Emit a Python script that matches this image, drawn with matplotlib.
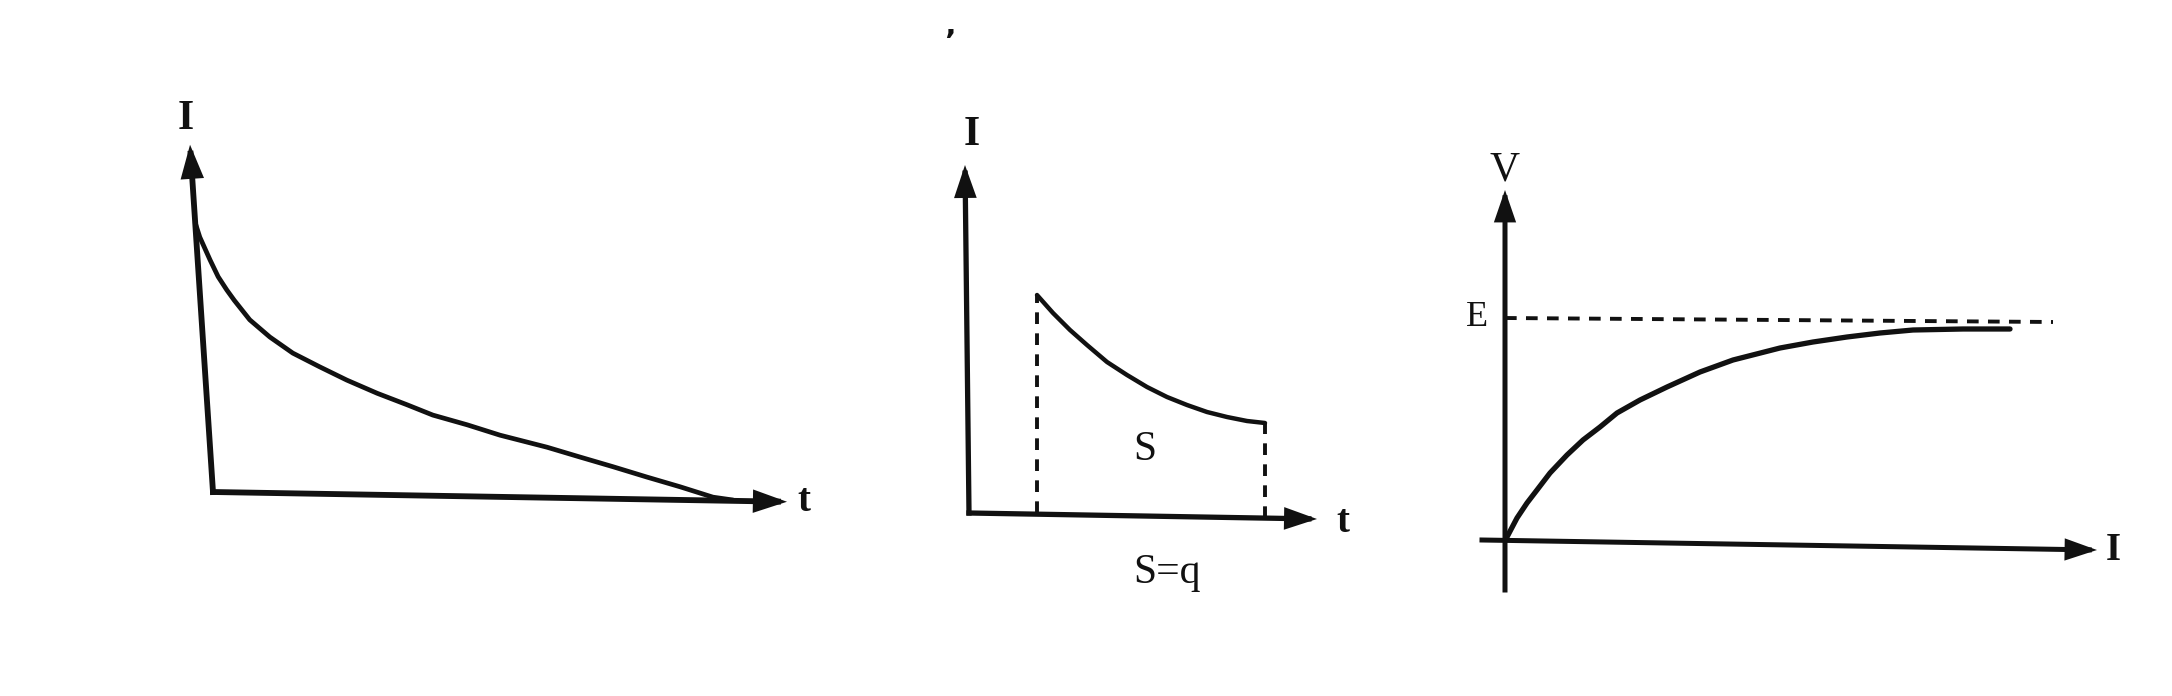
import matplotlib
matplotlib.use("Agg")
import matplotlib.pyplot as plt

W, H, DPI = 2172, 696, 100
INK = "#111111"
SERIF = ["Liberation Serif", "DejaVu Serif"]

# ---------------- data ----------------
# Panel 1: current I vs time t
p1_t = [-0.31, -0.23, -0.05, 0.09, 0.24, 0.37, 0.64, 0.99, 1.39, 1.86, 2.33,
        2.86, 3.38, 3.83, 4.43, 5.00, 5.82, 6.39, 6.97, 7.56, 8.14, 8.71, 9.06]
p1_I = [4.69, 4.44, 4.04, 3.75, 3.52, 3.34, 3.00, 2.70, 2.42, 2.18, 1.95,
        1.72, 1.52, 1.34, 1.17, 0.99, 0.78, 0.61, 0.44, 0.26, 0.09, -0.09, -0.14]
p1_xaxis = ([0.0, 10.0], [0.0, -0.17])
p1_yaxis = ([0.0, -0.4], [0.0, 6.05])

# Panel 2: I vs t, area S under the curve between two instants
p2_t = [1.36, 1.68, 2.02, 2.36, 2.76, 3.16, 3.56, 3.96, 4.36, 4.76, 5.16, 5.56, 5.92]
p2_I = [4.36, 4.00, 3.66, 3.36, 3.02, 2.76, 2.52, 2.32, 2.16, 2.02, 1.92, 1.84, 1.80]
p2_xaxis = ([0.0, 6.96], [0.0, -0.12])
p2_yaxis = ([0.0, -0.08], [0.0, 6.96])

# Panel 3: V vs I approaching E
p3_x = [0.0, 0.04, 0.24, 0.44, 0.64, 0.90, 1.24, 1.56, 1.90, 2.24, 2.70, 3.24,
        3.90, 4.56, 5.50, 6.16, 6.84, 7.50, 8.16, 9.16, 10.10]
p3_V = [0.0, 0.06, 0.44, 0.74, 1.00, 1.34, 1.70, 2.00, 2.26, 2.54, 2.80, 3.06,
        3.36, 3.60, 3.84, 3.96, 4.06, 4.14, 4.20, 4.22, 4.22]
p3_E = ([0.0, 10.96], [4.44, 4.36])
p3_xaxis = ([-0.46, 11.84], [0.0, -0.2])
p3_yaxis = ([0.0, 0.0], [-1.0, 7.0])

# ---------------- figure ----------------
fig = plt.figure(figsize=(W / DPI, H / DPI), dpi=DPI)
fig.patch.set_facecolor("white")


def panel_axes(ox, oy, s):
    """Axes spanning the figure; data origin at pixel (ox, oy from top), s px/unit."""
    ax = fig.add_axes([0, 0, 1, 1])
    ax.set_xlim(-ox / s, (W - ox) / s)
    ax.set_ylim(-(H - oy) / s, oy / s)
    ax.axis("off")
    ax.patch.set_alpha(0)
    return ax


def arrow(ax, xs, ys, lw):
    ax.annotate("", xy=(xs[-1], ys[-1]), xytext=(xs[0], ys[0]),
                arrowprops=dict(arrowstyle="-|>,head_length=16,head_width=5.5",
                                mutation_scale=1, lw=lw, color=INK,
                                shrinkA=0, shrinkB=0, joinstyle="miter",
                                capstyle="projecting"))


DASH = (0, (3, 2.4))

# Panel 1
ax1 = panel_axes(213, 492, 57.4)
arrow(ax1, *p1_xaxis, lw=4.2)
arrow(ax1, *p1_yaxis, lw=4.2)
ax1.plot(p1_t, p1_I, color=INK, lw=3.4, solid_capstyle="round",
         solid_joinstyle="round")
ax1.text(-0.47, 6.5, "I", family=SERIF, fontsize=30, color=INK,
         ha="center", va="center", fontweight="bold")
ax1.text(10.3, -0.17, "t", family=SERIF, fontsize=28, color=INK,
         ha="center", va="center", fontweight="bold")

# Panel 2
ax2 = panel_axes(969, 513, 50.0)
arrow(ax2, *p2_xaxis, lw=3.8)
arrow(ax2, *p2_yaxis, lw=3.8)
ax2.plot(p2_t, p2_I, color=INK, lw=3.2, solid_capstyle="round",
         solid_joinstyle="round")
ax2.plot([p2_t[0], p2_t[0]], [0.0, p2_I[0]], color=INK, lw=2.8, linestyle=DASH)
ax2.plot([p2_t[-1], p2_t[-1]], [-0.1, p2_I[-1]], color=INK, lw=2.8, linestyle=DASH)
ax2.text(0.06, 7.56, "I", family=SERIF, fontsize=30, color=INK,
         ha="center", va="center", fontweight="bold")
ax2.text(7.48, -0.2, "t", family=SERIF, fontsize=28, color=INK,
         ha="center", va="center", fontweight="bold")
ax2.text(3.52, 1.26, "S", family=SERIF, fontsize=30, color=INK,
         ha="center", va="center")
ax2.text(3.96, -1.2, "S=q", family=SERIF, fontsize=30, color=INK,
         ha="center", va="center")

# Panel 3
ax3 = panel_axes(1505, 540, 50.0)
arrow(ax3, *p3_xaxis, lw=3.6)
arrow(ax3, *p3_yaxis, lw=3.6)
ax3.plot(*p3_E, color=INK, lw=2.8, linestyle=DASH)
ax3.plot(p3_x, p3_V, color=INK, lw=3.8, solid_capstyle="round",
         solid_joinstyle="round")
ax3.text(0.0, 7.4, "V", family=SERIF, fontsize=30, color=INK,
         ha="center", va="center")
ax3.text(-0.56, 4.44, "E", family=SERIF, fontsize=26, color=INK,
         ha="center", va="center")
ax3.text(12.16, -0.2, "I", family=SERIF, fontsize=28, color=INK,
         ha="center", va="center", fontweight="bold")

# small stray mark at the top of the scan
fig.text(950 / W, 1 - 42 / H, "\u02bc", family=["DejaVu Sans"], fontsize=22,
         color=INK, ha="center", va="center", fontweight="bold")

fig.savefig("out.png", dpi=DPI, facecolor="white")
